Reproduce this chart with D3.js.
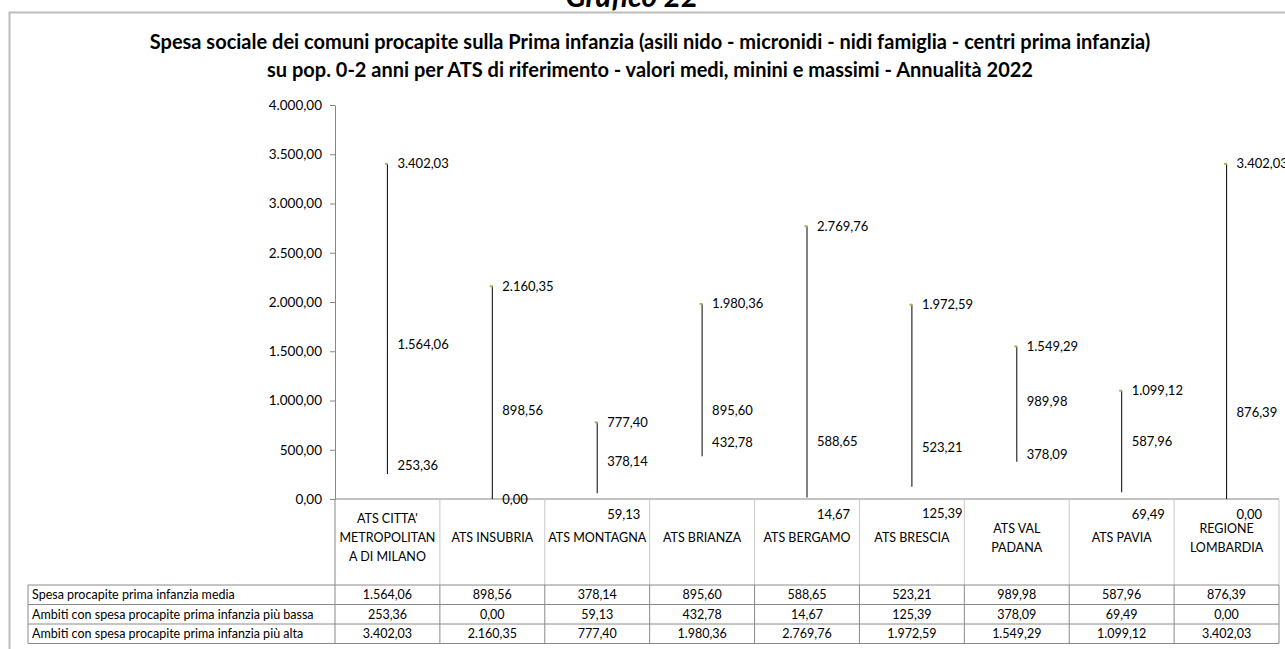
<!DOCTYPE html>
<html>
<head>
<meta charset="utf-8">
<script src="https://cdn.jsdelivr.net/npm/d3@7"></script>
<style>
  html, body { margin: 0; padding: 0; background: #fff; overflow: hidden; }
  svg { display: block; font-family: Lato, "Liberation Sans", Arial, sans-serif; }
</style>
</head>
<body>
<div id="chart"></div>
<script>
// categorie (righe dell'intestazione come nel grafico originale)
const categories = ["ATS CITTA' METROPOLITAN A DI MILANO", "ATS INSUBRIA", "ATS MONTAGNA", "ATS BRIANZA",
    "ATS BERGAMO", "ATS BRESCIA", "ATS VAL PADANA", "ATS PAVIA", "REGIONE LOMBARDIA"];
const categoryLines = [["ATS CITTA'", "METROPOLITAN", "A DI MILANO"], ["ATS INSUBRIA"], ["ATS MONTAGNA"], ["ATS BRIANZA"],
    ["ATS BERGAMO"], ["ATS BRESCIA"], ["ATS VAL", "PADANA"], ["ATS PAVIA"], ["REGIONE", "LOMBARDIA"]];

const mediaValues = [1564.06, 898.56, 378.14, 895.60, 588.65, 523.21, 989.98, 587.96, 876.39];
const minValues = [253.36, 0.00, 59.13, 432.78, 14.67, 125.39, 378.09, 69.49, 0.00];
const maxValues = [3402.03, 2160.35, 777.40, 1980.36, 2769.76, 1972.59, 1549.29, 1099.12, 3402.03];

// spostamento verticale (px) delle etichette dei minimi, come nell'originale
const minLabelShift = [-9, 0, 21, -14, 17, 27, -7, 22, 15];

const rowLabels = ["Spesa procapite prima infanzia media",
    "Ambiti con spesa procapite prima infanzia più bassa",
    "Ambiti con spesa procapite prima infanzia più alta"];

const yTicks = [0, 500, 1000, 1500, 2000, 2500, 3000, 3500, 4000];

const titleLines = ["Spesa sociale dei comuni procapite sulla Prima infanzia (asili nido - micronidi - nidi famiglia - centri prima infanzia)",
    "su pop. 0-2 anni per ATS di riferimento - valori medi, minini e massimi - Annualità 2022"];

const width = 1285, height = 649;
const plotLeft = 335, plotRight = 1279, plotTop = 105, plotBottom = 499;
const headerBottom = 585, rowH = 19.5, tableLeft = 28;

const it = d3.formatLocale({decimal: ",", thousands: ".", grouping: [3], currency: ["€", ""]});
const fmt = it.format(",.2f");

let svg = d3.select("#chart").append("svg")
    .attr("width", width)
    .attr("height", height);

// cornice del grafico
svg.append("rect")
    .attr("x", 9.5).attr("y", 12.5)
    .attr("width", width + 20).attr("height", height + 20)
    .attr("fill", "none")
    .attr("stroke", "#bcbcbc")
    .attr("stroke-width", 2);

// "Grafico 22" tagliato in alto
svg.append("text")
    .attr("x", 632).attr("y", 7)
    .attr("text-anchor", "middle")
    .style("font-size", "30px").style("font-weight", "bold").style("font-style", "italic")
    .text("Grafico 22");

svg.selectAll(".title")
    .data(titleLines).enter()
    .append("text")
    .attr("class", "title")
    .attr("x", 650)
    .attr("y", (d, i) => 49 + i * 28)
    .attr("text-anchor", "middle")
    .style("font-size", "20px").style("font-weight", "bold")
    .text(d => d);

let x = d3.scaleBand().domain(categories).range([plotLeft, plotRight]);
let y = d3.scaleLinear().domain([0, 4000]).range([plotBottom, plotTop]);
let cx = d => x(d) + x.bandwidth() / 2;

// asse y
let yAxis = svg.append("g")
    .attr("transform", "translate(" + plotLeft + ",0)")
    .call(d3.axisLeft(y).tickValues(yTicks).tickFormat(fmt).tickSize(5).tickSizeOuter(0).tickPadding(8));
yAxis.select(".domain").attr("stroke", "#868686");
yAxis.selectAll(".tick line").attr("stroke", "#868686");
yAxis.selectAll(".tick text").style("font-size", "13.5px").attr("fill", "#000").style("font-family", "Lato, 'Liberation Sans', Arial, sans-serif");

// asse categorie
svg.append("line")
    .attr("x1", plotLeft).attr("x2", plotRight)
    .attr("y1", plotBottom).attr("y2", plotBottom)
    .attr("stroke", "#868686");

// linee min-max
svg.selectAll(".hilo")
    .data(categories).enter()
    .append("line")
    .attr("class", "hilo")
    .attr("x1", cx)
    .attr("x2", cx)
    .attr("y1", (d, i) => y(minValues[i]))
    .attr("y2", (d, i) => y(maxValues[i]))
    .attr("stroke", "#1a1a1a")
    .attr("stroke-width", 1.1);

// marcatori verdi del massimo
svg.selectAll(".mark")
    .data(categories).enter()
    .append("rect")
    .attr("class", "mark")
    .attr("x", d => cx(d) - 2.5)
    .attr("y", (d, i) => y(maxValues[i]) - 1)
    .attr("width", 3).attr("height", 2)
    .attr("fill", "#9bbb59");

// etichette dati
let series = [
    {vals: maxValues, shift: maxValues.map(() => 0)},
    {vals: mediaValues, shift: mediaValues.map(() => 0)},
    {vals: minValues, shift: minLabelShift}
];
series.forEach(s => {
    svg.selectAll(null)
        .data(categories).enter()
        .append("text")
        .attr("x", d => cx(d) + 10)
        .attr("y", (d, i) => y(s.vals[i]) + s.shift[i])
        .attr("dy", "0.35em")
        .style("font-size", "13px")
        .text((d, i) => fmt(s.vals[i]));
});

// tabella dati
let grid = svg.append("g").attr("stroke", "#c8c8c8").attr("fill", "none");
x.domain().forEach(c => {
    grid.append("line")
        .attr("x1", x(c) + x.bandwidth()).attr("x2", x(c) + x.bandwidth())
        .attr("y1", plotBottom).attr("y2", headerBottom);
});
svg.append("line")
    .attr("x1", plotLeft).attr("x2", plotLeft)
    .attr("y1", plotBottom).attr("y2", headerBottom)
    .attr("stroke", "#868686");

let header = svg.selectAll(".head")
    .data(categories).enter()
    .append("text")
    .attr("class", "head")
    .attr("text-anchor", "middle")
    .style("font-size", "12.5px");
header.each(function (d, i) {
    let lines = categoryLines[i];
    let cy = (plotBottom + headerBottom) / 2 - 4;
    d3.select(this).selectAll("tspan")
        .data(lines).enter()
        .append("tspan")
        .attr("x", cx(d))
        .attr("y", (l, j) => cy + (j - (lines.length - 1) / 2) * 19)
        .attr("dy", "0.35em")
        .text(l => l);
});

let rows = [mediaValues, minValues, maxValues];
let tableBorder = svg.append("g").attr("stroke", "#8a8a8a").attr("fill", "none");
for (let r = 0; r <= rows.length; r++) {
    tableBorder.append("line")
        .attr("x1", tableLeft).attr("x2", plotRight)
        .attr("y1", headerBottom + r * rowH).attr("y2", headerBottom + r * rowH);
}
[tableLeft, plotLeft].concat(categories.map(c => x(c) + x.bandwidth())).forEach(xx => {
    tableBorder.append("line")
        .attr("x1", xx).attr("x2", xx)
        .attr("y1", headerBottom).attr("y2", headerBottom + rows.length * rowH);
});

rows.forEach((vals, r) => {
    let rowY = headerBottom + r * rowH + rowH / 2;
    svg.append("text")
        .attr("x", tableLeft + 4).attr("y", rowY).attr("dy", "0.35em")
        .style("font-size", "12.5px")
        .text(rowLabels[r]);
    svg.selectAll(null)
        .data(categories).enter()
        .append("text")
        .attr("x", cx)
        .attr("y", rowY).attr("dy", "0.35em")
        .attr("text-anchor", "middle")
        .style("font-size", "12.5px")
        .text((d, i) => fmt(vals[i]));
});
</script>
</body>
</html>
